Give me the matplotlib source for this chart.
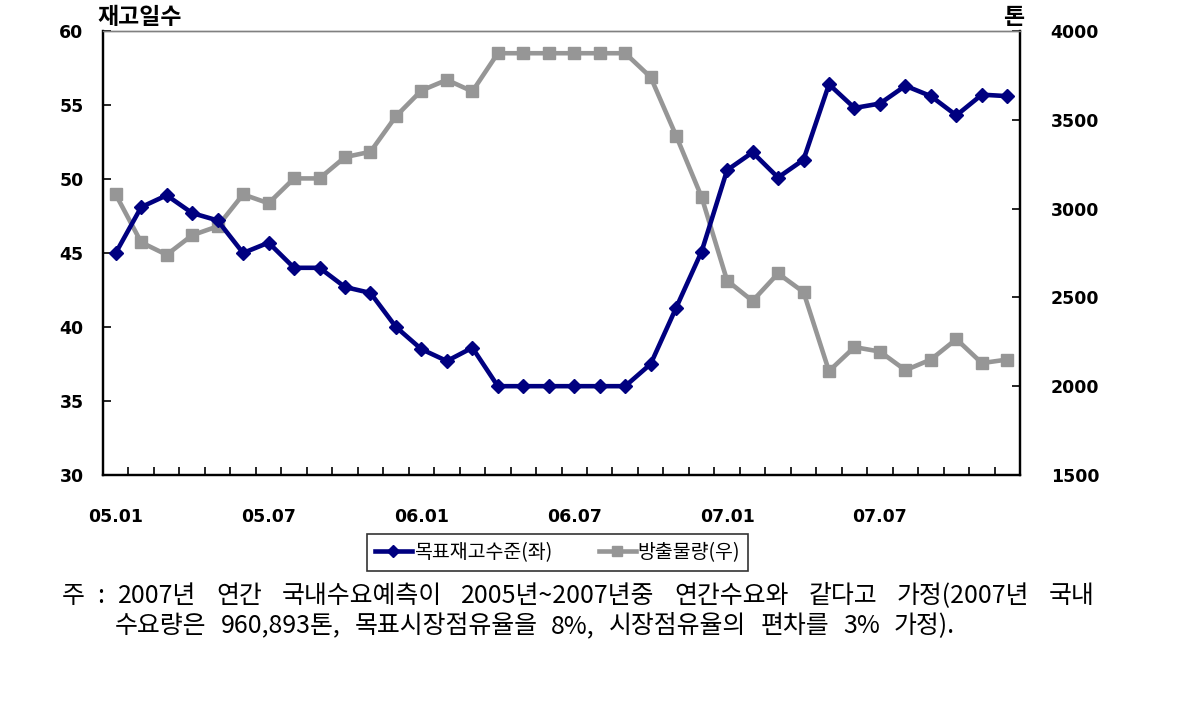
import matplotlib
matplotlib.use('Agg')
import matplotlib.pyplot as plt
import numpy as np

plt.rcParams['font.family'] = ['DejaVu Sans', 'Noto Sans CJK KR']

# 월별 (05.01 ~ 07.12)
months = [f"{y:02d}.{m:02d}" for y in (5, 6, 7) for m in range(1, 13)]
tick_labels = ['05.01', '05.07', '06.01', '06.07', '07.01', '07.07']

# 목표재고수준 (좌, 일)
target_days = [45.0, 48.1, 48.9, 47.7, 47.2, 45.0, 45.7, 44.0, 44.0, 42.7, 42.3, 40.0,
               38.5, 37.7, 38.6, 36.0, 36.0, 36.0, 36.0, 36.0, 36.0, 37.5, 41.3, 45.1,
               50.6, 51.8, 50.1, 51.3, 56.4, 54.8, 55.1, 56.3, 55.6, 54.3, 55.7, 55.6]

# 방출물량 (우, 톤)
release_ton = [3080, 2810, 2740, 2850, 2900, 3080, 3030, 3170, 3170, 3290, 3320, 3520,
               3665, 3725, 3660, 3875, 3875, 3875, 3875, 3875, 3875, 3740, 3410, 3065,
               2595, 2480, 2635, 2530, 2085, 2220, 2195, 2090, 2150, 2265, 2130, 2150]

note_line1 = '2007년 연간 국내수요예측이 2005년~2007년중 연간수요와 같다고 가정(2007년 국내'
note_line2 = '수요량은 960,893톤, 목표시장점유율을 8%, 시장점유율의 편차를 3% 가정).'

KR = 'Noto Sans CJK KR'
navy = '#000080'
gray = '#969696'
W, H = 1185, 702

fig = plt.figure(figsize=(W / 100, H / 100), dpi=100)
ax = fig.add_axes([0.0869, 0.3234, 0.7739, 0.6324])
ax2 = ax.twinx()

x = np.arange(len(months))
l1, = ax.plot(x, target_days, color=navy, lw=3.3, marker='D', ms=7.5, zorder=3)
l2, = ax2.plot(x, release_ton, color=gray, lw=3.3, marker='s', ms=9, zorder=2)
ax.set_zorder(ax2.get_zorder() + 1)
ax.patch.set_visible(False)

ax.set_xlim(-0.5, len(months) - 0.5)
ax.set_ylim(30, 60)
ax2.set_ylim(1500, 4000)
ax.set_yticks(np.arange(30, 61, 5))
ax2.set_yticks(np.arange(1500, 4001, 500))

idx = [months.index(t) for t in tick_labels]
ax.set_xticks(idx)
ax.set_xticklabels(tick_labels)
ax.set_xticks(np.arange(-0.5, len(months), 1), minor=True)
ax.tick_params(axis='x', which='major', length=0, pad=24, labelsize=12.5)
ax.tick_params(axis='x', which='minor', direction='in', length=6, width=1.2)
ax.tick_params(axis='y', direction='in', length=6, width=1.2, pad=14, labelsize=12.5)
ax2.tick_params(axis='y', direction='in', length=6, width=1.2, pad=22, labelsize=12.5)
for lab in ax.get_xticklabels() + ax.get_yticklabels() + ax2.get_yticklabels():
    lab.set_fontweight('bold')

for a in (ax, ax2):
    a.spines['top'].set_color('#808080')
    a.spines['top'].set_linewidth(1)
    for s in ('left', 'right', 'bottom'):
        a.spines[s].set_linewidth(1.6)
        a.spines[s].set_color('black')

fig.text(97 / W, 1 - 18 / H, '재고일수', family=KR, fontsize=16.5, fontweight='bold', va='center', ha='left')
fig.text(1024 / W, 1 - 18 / H, '톤', family=KR, fontsize=16.5, fontweight='bold', va='center', ha='right')

leg = fig.legend([l1, l2], ['목표재고수준(좌)', '방출물량(우)'], loc='center',
                 bbox_to_anchor=(557.5 / W, 1 - 552.5 / H), ncol=2, frameon=True, fancybox=False,
                 prop={'family': KR, 'size': 14}, handlelength=1.9, handletextpad=0.1,
                 columnspacing=2.4, borderpad=0.4, borderaxespad=0, edgecolor='black',
                 markerscale=0.8)
leg.get_frame().set_linewidth(1.2)

r = fig.canvas.get_renderer()


def word_widths(words, size):
    out = []
    for w in words:
        t = fig.text(0, 0, w, family=KR, fontsize=size)
        out.append(t.get_window_extent(r).width)
        t.remove()
    return out


def justify(words, x0, x1, y, size):
    # 단어를 x0~x1 사이에 균등 배치
    widths = word_widths(words, size)
    gap = (x1 - x0 - sum(widths)) / max(len(words) - 1, 1)
    cx = x0
    for w, wd in zip(words, widths):
        fig.text(cx / W, 1 - y / H, w, family=KR, fontsize=size, va='center', ha='left')
        cx += wd + gap


# 둘째 줄 기준으로 글자 크기 맞춤 (단어 간격 약 14px)
words2 = note_line2.split(' ')
base = 15
need = (955 - 115) - 14 * (len(words2) - 1)
fs = base * need / sum(word_widths(words2, base))

fig.text(62 / W, 1 - 596 / H, '주', family=KR, fontsize=fs, va='center', ha='left')
fig.text(97 / W, 1 - 596 / H, ':', family=KR, fontsize=fs, va='center', ha='left')
justify(note_line1.split(' '), 118, 1095, 596, fs)
justify(words2, 115, 955, 626, fs)

fig.savefig('out.png', dpi=100)
